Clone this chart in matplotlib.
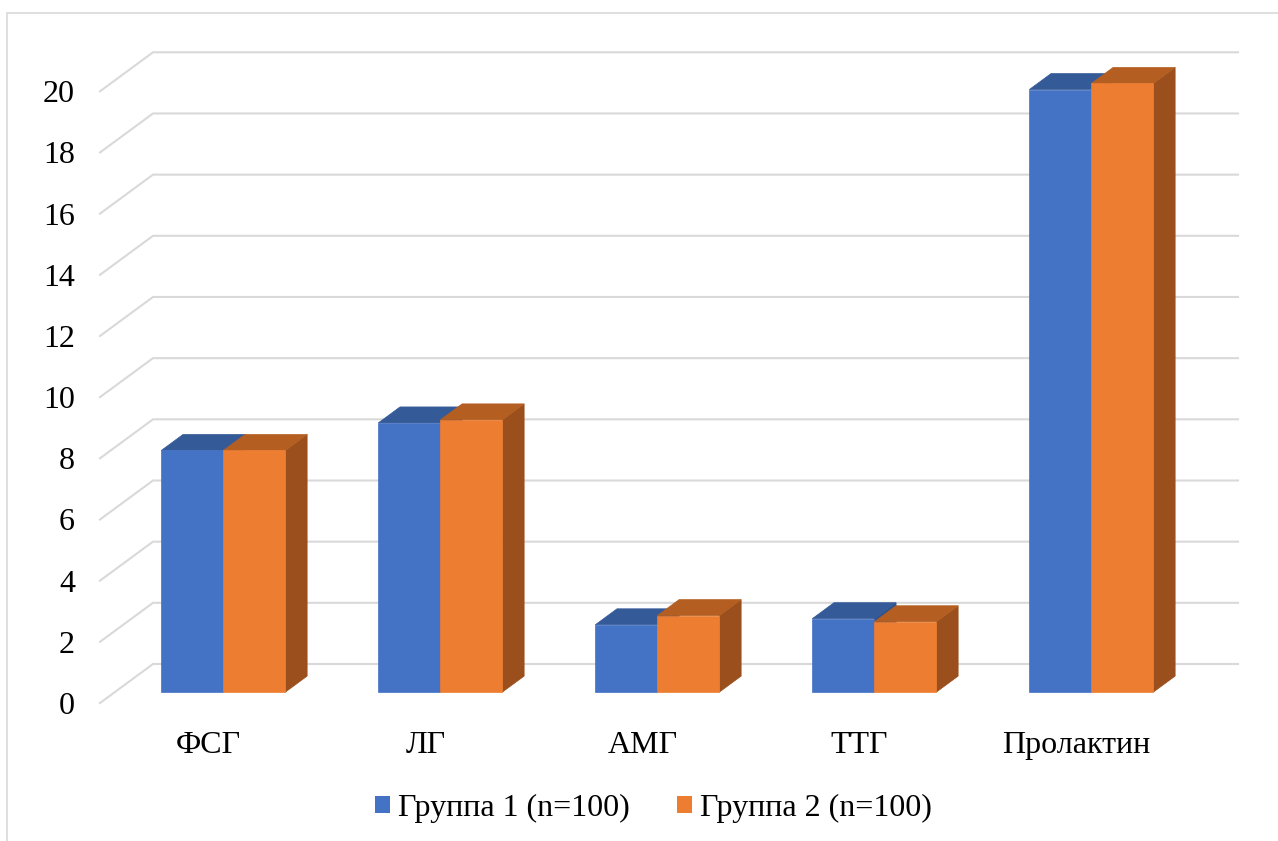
import matplotlib
matplotlib.use("Agg")
import matplotlib.pyplot as plt
from matplotlib.patches import Polygon, Rectangle, Patch

# ---- data ----
categories = ["ФСГ", "ЛГ", "АМГ", "ТТГ", "Пролактин"]
group1 = [7.9, 8.8, 2.2, 2.4, 19.7]
group2 = [7.9, 8.9, 2.5, 2.3, 19.9]
series_names = ["Группа 1 (n=100)", "Группа 2 (n=100)"]
y_ticks = [0, 2, 4, 6, 8, 10, 12, 14, 16, 18, 20]

# ---- styling ----
plt.rcParams["font.family"] = ["Liberation Serif", "DejaVu Serif"]
FS = 23
front_col = ["#4472C4", "#ED7D31"]
top_col = ["#345A98", "#B45F21"]
side_col = ["#2E518C", "#9A4F1D"]
grid_col = "#D9D9D9"

W, H = 1278, 841
fig = plt.figure(figsize=(W / 100, H / 100), dpi=100)
ax = fig.add_axes([0, 0, 1, 1])
ax.set_axis_off()

# plot frame (pixels) -> data mapping: x in category units, y in value units
x0_px, cat_px = 100.0, 217.0
y0_px, unit_px = 703.0, 30.585
ax.set_xlim((0 - x0_px) / cat_px, (W - x0_px) / cat_px)
ax.set_ylim((y0_px - H) / unit_px, y0_px / unit_px)

# full depth of the 3-D box in data units
DX = 53.0 / cat_px
DY = 39.0 / unit_px
n = len(categories)

def proj(x, y, d):
    """Oblique projection of a point at depth fraction d (0 = front, 1 = back)."""
    return (x + d * DX, y + d * DY)

# chart border
fig.patches.append(Rectangle((7 / W, -0.1), 2.0, (H - 13) / H + 0.1,
                             transform=fig.transFigure, fill=False,
                             edgecolor=grid_col, linewidth=1.2))

# gridlines: left-wall diagonal + back-wall horizontal
for v in y_ticks:
    xa, ya = proj(0, v, 0)
    xb, yb = proj(0, v, 1)
    xc, yc = proj(n, v, 1)
    ax.plot([xa, xb, xc], [ya, yb, yc], color=grid_col, lw=1.5,
            solid_joinstyle="miter", zorder=1)
    ax.text(xa - 25 / cat_px, v - 11 / unit_px, str(v), ha="right",
            va="baseline", fontsize=FS, color="black")

# bars
bar_w = 0.286
d_front, d_back = 0.28, 0.69
z = 2
for i in range(n):
    for s, vals in enumerate([group1, group2]):
        v = vals[i]
        xl = i + 0.5 - bar_w + s * bar_w
        xr = xl + bar_w
        f = [proj(xl, 0, d_front), proj(xr, 0, d_front),
             proj(xr, v, d_front), proj(xl, v, d_front)]
        top = [proj(xl, v, d_front), proj(xr, v, d_front),
               proj(xr, v, d_back), proj(xl, v, d_back)]
        side = [proj(xr, 0, d_front), proj(xr, 0, d_back),
                proj(xr, v, d_back), proj(xr, v, d_front)]
        ax.add_patch(Polygon(side, closed=True, facecolor=side_col[s],
                             edgecolor=side_col[s], lw=0.5, zorder=z))
        ax.add_patch(Polygon(top, closed=True, facecolor=top_col[s],
                             edgecolor=top_col[s], lw=0.5, zorder=z))
        ax.add_patch(Polygon(f, closed=True, facecolor=front_col[s],
                             edgecolor=front_col[s], lw=0.5, zorder=z))
        z += 1

# category labels
for i, c in enumerate(categories):
    ax.text(i + 0.5, -50 / unit_px, c, ha="center", va="baseline",
            fontsize=FS, color="black")

# legend
handles = [Patch(facecolor=front_col[k], edgecolor="none") for k in range(2)]
fig.legend(handles, series_names, loc="center", ncol=2, frameon=False,
           bbox_to_anchor=(653.5 / W, 1 - 808 / H), fontsize=FS,
           handlelength=0.45, handleheight=0.45, handletextpad=0.25,
           columnspacing=1.5, borderpad=0)

fig.savefig("out.png", dpi=100)
